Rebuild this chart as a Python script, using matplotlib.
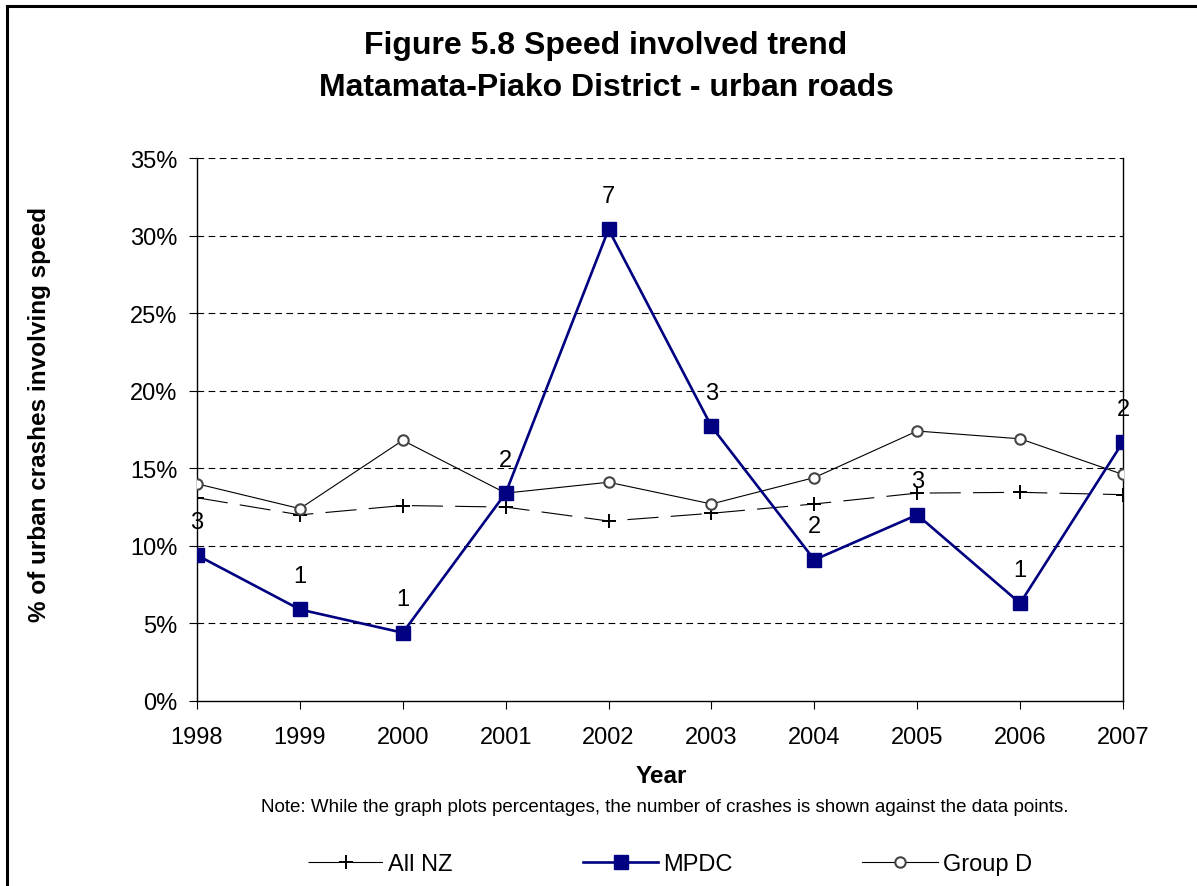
import matplotlib
matplotlib.use("Agg")
import matplotlib.pyplot as plt
from matplotlib.lines import Line2D
from matplotlib.ticker import FuncFormatter

plt.rcParams["font.family"] = ["Liberation Sans", "DejaVu Sans"]

years = [1998, 1999, 2000, 2001, 2002, 2003, 2004, 2005, 2006, 2007]
all_nz = [13.1, 12.0, 12.6, 12.5, 11.6, 12.1, 12.7, 13.4, 13.45, 13.3]
mpdc = [9.4, 5.9, 4.4, 13.4, 30.4, 17.7, 9.1, 12.0, 6.3, 16.7]
group_d = [14.0, 12.4, 16.8, 13.4, 14.1, 12.7, 14.4, 17.4, 16.9, 14.6]
mpdc_counts = [3, 1, 1, 2, 7, 3, 2, 3, 1, 2]

W, H = 1197, 887
fig = plt.figure(figsize=(W / 100, H / 100), dpi=100)
ax = fig.add_axes([197 / W, 1 - 702 / H, (1123 - 197) / W, (702 - 159) / H])

# outer frame (cut at right/bottom like the source)
fig.add_artist(Line2D([6.5 / W, 1.0], [1 - 6.5 / H, 1 - 6.5 / H], color="black", lw=2.2,
                      transform=fig.transFigure))
fig.add_artist(Line2D([6.5 / W, 6.5 / W], [0.0, 1 - 6.5 / H], color="black", lw=2.2,
                      transform=fig.transFigure))

for y in range(5, 36, 5):
    ax.axhline(y, color="black", lw=0.8, ls=(0, (6, 4)), zorder=0)

ax.plot(years, all_nz, color="black", lw=0.8, ls=(0, (28, 11)), marker="+",
        markersize=10, mew=1.4, label="All NZ", zorder=3)
ax.plot(years, mpdc, color="#000080", lw=1.9, marker="s", markersize=9.5,
        label="MPDC", zorder=4)
ax.plot(years, group_d, color="black", lw=0.8, marker="o", markersize=7.5,
        mfc="white", mec="#444444", mew=1.5, label="Group D", zorder=3)

for x, y, n in zip(years, mpdc, mpdc_counts):
    ax.annotate(str(n), (x, y), xytext=(0, 24), textcoords="offset points",
                ha="center", va="center", fontsize=17, zorder=5)

ax.set_xlim(1998, 2007)
ax.set_ylim(0, 35)
ax.set_xticks(years)
ax.set_yticks(range(0, 36, 5))
ax.yaxis.set_major_formatter(FuncFormatter(lambda v, p: f"{v:.0f}%"))
ax.tick_params(axis="both", labelsize=17, direction="out", length=6, width=0.8, pad=8)
ax.tick_params(axis="x", pad=12)
ax.spines["top"].set_visible(False)
for s in ("left", "bottom", "right"):
    ax.spines[s].set_linewidth(1.0)

fig.text(606 / W, 1 - 46 / H, "Figure 5.8 Speed involved trend", ha="center",
         va="center", fontsize=23, fontweight="bold")
fig.text(606 / W, 1 - 88 / H, "Matamata-Piako District - urban roads", ha="center",
         va="center", fontsize=23, fontweight="bold")
fig.text(40 / W, 1 - 414 / H, "% of urban crashes involving speed", rotation=90,
         ha="center", va="center", fontsize=17.5, fontweight="bold")
fig.text(661 / W, 1 - 777 / H, "Year", ha="center", va="center", fontsize=17.5,
         fontweight="bold")
fig.text(665 / W, 1 - 808 / H,
         "Note: While the graph plots percentages, the number of crashes is shown against the data points.",
         ha="center", va="center", fontsize=13.5)

fig.legend(loc="center", bbox_to_anchor=(670 / W, 1 - 865 / H), ncol=3, frameon=False,
           fontsize=17, handlelength=3.2, columnspacing=5.5, handletextpad=0.2)

fig.savefig("out.png", dpi=100, facecolor="white")
